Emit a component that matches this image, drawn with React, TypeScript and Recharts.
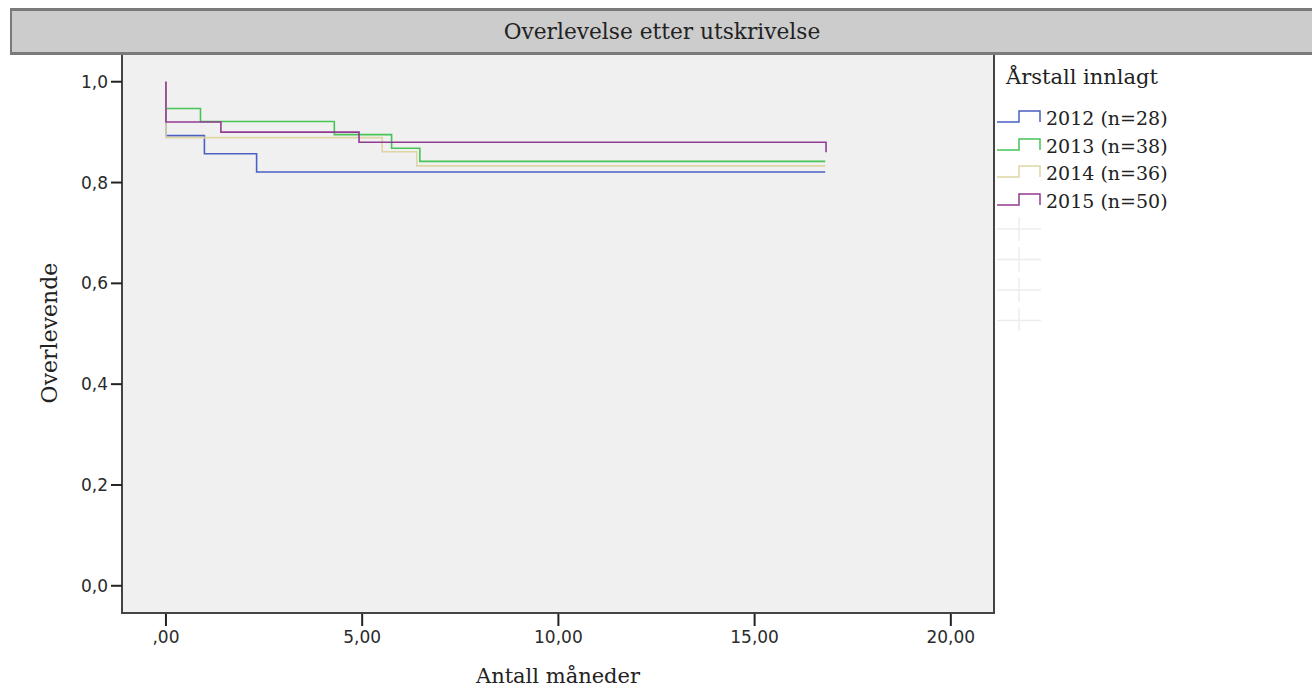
import { LineChart, Line, XAxis, YAxis, CartesianGrid, ReferenceArea } from 'recharts';

const SERIF = '"DejaVu Serif", serif';
const SANS = '"DejaVu Sans", sans-serif';

// Kaplan-Meier steps per admission year: months after discharge and survival share
const MONTHS_2012 = [0, 0, 0.98, 2.31, 16.8];
const SURV_2012 = [1, 0.893, 0.857, 0.821, 0.821];
const MONTHS_2013 = [0, 0, 0.88, 4.29, 5.75, 6.47, 16.8];
const SURV_2013 = [1, 0.947, 0.921, 0.895, 0.868, 0.842, 0.842];
const MONTHS_2014 = [0, 0, 5.51, 6.39, 16.8];
const SURV_2014 = [1, 0.889, 0.861, 0.833, 0.833];
const MONTHS_2015 = [0, 0, 1.4, 4.92, 16.82];
const SURV_2015 = [1, 0.92, 0.9, 0.88, 0.86];

const GROUPS = ['2012 (n=28)', '2013 (n=38)', '2014 (n=36)', '2015 (n=50)'];
const COLORS = ['#4a60c2', '#46c456', '#ddd6a4', '#923a92'];
const MONTHS = [MONTHS_2012, MONTHS_2013, MONTHS_2014, MONTHS_2015];
const SURV = [SURV_2012, SURV_2013, SURV_2014, SURV_2015];

const X_TICKS = [0, 5, 10, 15, 20];
const Y_TICKS = [0, 0.2, 0.4, 0.6, 0.8, 1];
const X_DOMAIN: [number, number] = [-1.12, 21.1];
const Y_DOMAIN: [number, number] = [-0.054, 1.055];

const series = GROUPS.map((name, i) => ({
  name,
  color: COLORS[i],
  data: MONTHS[i].map((t, j) => ({ t, s: SURV[i][j] })),
}));

const fmtX = (v: number) => (v === 0 ? ',00' : v.toFixed(2).replace('.', ','));
const fmtY = (v: number) => v.toFixed(1).replace('.', ',');

function XTick({ x, y, payload }: any) {
  return (
    <g>
      <line x1={x} x2={x} y1={y + 1} y2={y + 13} stroke="#222" strokeWidth={2} />
      <text x={x} y={y + 30} textAnchor="middle" fill="#2a2a2a" fontSize={17} fontFamily={SANS}>
        {fmtX(payload.value)}
      </text>
    </g>
  );
}

function StepIcon({ color }: { color: string }) {
  return (
    <svg width={46} height={16} style={{ display: 'block' }}>
      <path d="M1 12 H23 V1 H44 V12" fill="none" stroke={color} strokeWidth={1.5} />
    </svg>
  );
}

function KmLegend() {
  return (
    <div style={{ position: 'absolute', left: 996, top: 62, fontFamily: SERIF, color: '#222' }}>
      <div style={{ fontSize: 21, lineHeight: '30px', marginLeft: 10 }}>Årstall innlagt</div>
      <div style={{ marginTop: 12 }}>
        {series.map((s) => (
          <div key={s.name} style={{ display: 'flex', alignItems: 'center', height: 27.7 }}>
            <StepIcon color={s.color} />
            <span style={{ fontSize: 19, marginLeft: 4 }}>{s.name}</span>
          </div>
        ))}
      </div>
      {/* censor mark entries, drawn almost invisible */}
      <svg width={46} height={120} style={{ display: 'block', marginTop: -4 }}>
        {[0, 1, 2, 3].map((k) => (
          <g key={k} stroke="#ececec" strokeWidth={1.5}>
            <line x1={1} x2={45} y1={18 + k * 30.5} y2={18 + k * 30.5} />
            <line x1={23} x2={23} y1={6 + k * 30.5} y2={30 + k * 30.5} />
          </g>
        ))}
      </svg>
    </div>
  );
}

export default function App() {
  return (
    <div
      style={{
        position: 'absolute',
        left: 0,
        top: 0,
        width: 1312,
        height: 689,
        background: '#fff',
        overflow: 'hidden',
      }}
    >
      <LineChart width={1312} height={689} margin={{ top: 54, right: 318, bottom: 12, left: 62 }}>
        <CartesianGrid fill="#f0f0f0" horizontal={false} vertical={false} />
        <XAxis
          type="number"
          dataKey="t"
          domain={X_DOMAIN}
          ticks={X_TICKS}
          interval={0}
          allowDataOverflow
          axisLine={false}
          tickLine={false}
          tickSize={0}
          tickMargin={0}
          height={64}
          tick={<XTick />}
        />
        <YAxis
          type="number"
          domain={Y_DOMAIN}
          ticks={Y_TICKS}
          interval={0}
          allowDataOverflow
          width={60}
          axisLine={false}
          tickSize={11}
          tickMargin={3}
          tickLine={{ stroke: '#222', strokeWidth: 2 }}
          tick={{ fill: '#2a2a2a', fontSize: 17, fontFamily: SANS }}
          tickFormatter={fmtY}
        />
        {series.map((s) => (
          <Line
            key={s.name}
            data={s.data}
            dataKey="s"
            name={s.name}
            type="stepAfter"
            stroke={s.color}
            strokeWidth={1.6}
            dot={false}
            isAnimationActive={false}
          />
        ))}
        <ReferenceArea
          x1={X_DOMAIN[0]}
          x2={X_DOMAIN[1]}
          y1={Y_DOMAIN[0]}
          y2={Y_DOMAIN[1]}
          fill="none"
          stroke="#444"
          strokeWidth={2}
          ifOverflow="visible"
        />
      </LineChart>

      <div
        style={{
          position: 'absolute',
          left: 10,
          top: 8,
          width: 1302,
          height: 47,
          boxSizing: 'border-box',
          background: '#cccccc',
          borderTop: '3px solid #7a7a7a',
          borderBottom: '3px solid #7a7a7a',
          borderLeft: '2px solid #7a7a7a',
          display: 'flex',
          alignItems: 'center',
          justifyContent: 'center',
          fontFamily: SERIF,
          fontSize: 21.7,
          color: '#222',
        }}
      >
        Overlevelse etter utskrivelse
      </div>

      <div
        style={{
          position: 'absolute',
          left: 50,
          top: 333,
          transform: 'translate(-50%, -50%) rotate(-90deg)',
          whiteSpace: 'nowrap',
          fontFamily: SERIF,
          fontSize: 22,
          lineHeight: 1,
          color: '#222',
        }}
      >
        Overlevende
      </div>
      <div
        style={{
          position: 'absolute',
          left: 558,
          top: 676,
          transform: 'translate(-50%, -50%)',
          whiteSpace: 'nowrap',
          fontFamily: SERIF,
          fontSize: 21,
          lineHeight: 1,
          color: '#222',
        }}
      >
        Antall måneder
      </div>

      <KmLegend />
    </div>
  );
}
